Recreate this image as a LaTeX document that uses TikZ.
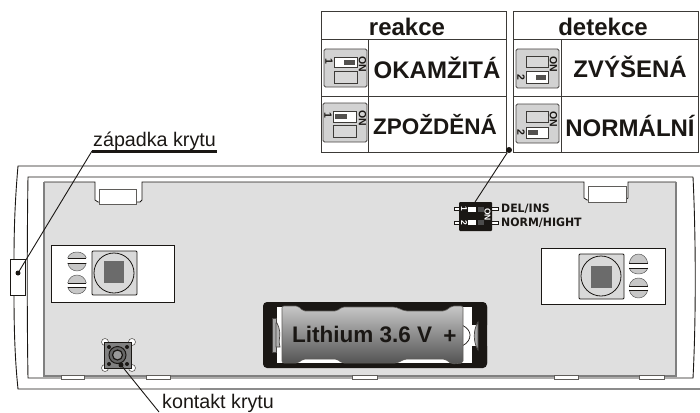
\documentclass[tikz,border=0pt]{standalone}
\usepackage{fontspec}
\setmainfont{Liberation Sans}
\newfontfamily\dejab{DejaVu Sans}[FakeStretch=0.95]
\newcommand\fs[1]{\fontsize{#1}{#1}\selectfont}
\definecolor{panel}{HTML}{DFDFDF}
\definecolor{iconbg}{HTML}{D2D2D2}
\definecolor{slotbg}{HTML}{D8D8D8}
\definecolor{ink}{HTML}{1A1714}
\tikzset{
 rule/.style={draw=ink!85!white,line width=1pt},
 txt/.style={inner sep=0pt,text=ink},
 head/.style={txt,font=\fs{24}\bfseries},
 big/.style={txt,font=\fs{22.5}\bfseries},
 bigger/.style={txt,font=\fs{24}\bfseries},
 swbox/.style={draw=ink!80!white,fill=iconbg,rounded corners=1.5pt,line width=.8pt},
 slotoff/.style={draw=ink!85!white,fill=slotbg,line width=.8pt},
 sloton/.style={draw=ink!85!white,fill=white,line width=.8pt},
 slider/.style={fill=ink!75!white,draw=none},
 tiny/.style={inner sep=0pt,rotate=-90,text=ink,font=\fs{10.5}\bfseries},
 wtiny/.style={inner sep=0pt,rotate=-90,text=white,font=\fs{8.5}\bfseries},
 frameline/.style={draw=ink,line width=.9pt},
 thin/.style={draw=ink,line width=.8pt},
 tabw/.style={draw=ink!70!white,fill=white,line width=.8pt},
 dot/.style={circle,fill=ink,inner sep=0pt,minimum size=#1},
 leader/.style={draw=ink,line width=.9pt},
 label/.style={inner sep=0pt,anchor=west,text=ink,font=\fs{19.7}},
 diptxt/.style={inner sep=0pt,anchor=west,text=ink,font=\dejab\fs{11.5}\bfseries},
 edge/.style={draw=black!50,line width=1.2pt},
}
\newcommand\domes[3]{\filldraw[fill=black!22,draw=black!65,line width=.5pt] (#1-9.3,#2) .. controls (#1-7,{#2+(#3-#2)*1.33}) and (#1+7,{#2+(#3-#2)*1.33}) .. (#1+9.3,#2);\draw[draw=ink,line width=.8pt] (#1-9.3,#2) -- (#1+9.3,#2);}
\begin{document}
\begin{tikzpicture}[x=1pt,y=-1pt]
\useasboundingbox (0,0) rectangle (700,412);
% housing
\draw[frameline] (700,166) -- (18,166) .. controls (15,200) and (14,230) .. (14,259);
\draw[frameline] (14,295) .. controls (14,330) and (15,360) .. (18,389) -- (200,389);
\draw[draw=black!45,line width=1.6pt] (200,389) -- (700,389);
\draw[frameline] (693,177) -- (28,177) .. controls (27,240) and (27,320) .. (28,378) -- (693,378) .. controls (696,320) and (696,240) .. (693,177);
\draw[draw=ink,fill=white,line width=.7pt] (10,259) rectangle (25,295);
% panel
\fill[panel] (44,376) -- (44,182) -- (95,182) -- (95,200) -- (98,202) -- (140,202) -- (142,200) -- (142,182) -- (584,182) -- (584,198) -- (587,200) -- (625,200) -- (628,198) -- (628,182) -- (676,182) -- (676,376) -- cycle;
\draw[draw=ink,line width=.8pt] (44,182) -- (95,182) -- (95,200) -- (98,202) -- (140,202) -- (142,200) -- (142,182) -- (584,182) -- (584,198) -- (587,200) -- (625,200) -- (628,198) -- (628,182) -- (676,182);
\draw[edge] (44,182) -- (44,376) -- (676,376) -- (676,182);
\draw[tabw] (99,189) rectangle (136.5,204);
\draw[tabw] (588,186) rectangle (626,202);
\foreach \a/\b in {61/84,146/170,352/377,554/578,639/664} \draw[tabw] (\a,375) rectangle (\b,379);
% left sensor
\filldraw[fill=white,thin] (51,245) rectangle (174,302);
\filldraw[fill=black!15,thin,rounded corners=1pt] (92,251) rectangle (137,295);
\draw[thin] (114,273) circle[radius=20pt];
\fill[black!58] (104,261) rectangle (124,283);
\domes{77}{258}{252}\domes{77}{263}{271}\domes{77}{283}{275}\domes{77}{287}{294}
% right sensor
\filldraw[fill=white,thin] (541,248) rectangle (665,304);
\filldraw[fill=black!15,thin,rounded corners=1pt] (579,254) rectangle (624,299);
\draw[thin] (601,276) circle[radius=20pt];
\fill[black!58] (591,266) rectangle (612,288);
\domes{638.5}{263}{254}\domes{638.5}{268}{274}\domes{638.5}{286}{278}\domes{638.5}{290}{298}
% button
\foreach \p in {105,132}\foreach \q in {342,368} \filldraw[fill=white,draw=ink!70!white,line width=.6pt] (\p,\q) circle[radius=3.5pt];
\filldraw[fill=black!50,draw=ink,line width=1pt] (104,342) rectangle (131,368);
\foreach \p in {109,127}\foreach \q in {347,364} \fill[ink] (\p,\q) circle[radius=2pt];
\filldraw[fill=black!60,draw=ink,line width=1pt] (117.5,355) circle[radius=8.5pt];
\filldraw[fill=black!40,draw=ink,line width=1.2pt] (117.5,355) circle[radius=5pt];
% battery
\fill[ink,rounded corners=4pt] (263,302) rectangle (487,368);
\fill[white] (277,307) rectangle (472,363);
\fill[ink] (472,307) rectangle (487,325) (472,346) rectangle (487,363);
\fill[white] (472,325) -- (478,325) -- (478,346) -- (472,346) -- cycle;
\filldraw[fill=black!35,draw=ink!80,line width=.7pt] (272,318) rectangle (276,352);
\filldraw[fill=black!30,draw=ink!80,line width=.7pt] (277,323) .. controls (283,335) and (277,340) .. (280,347) -- (276,347) -- (276,323) -- cycle;
\filldraw[fill=white,draw=ink,line width=.7pt] (462,325) .. controls (468,328) and (470,332) .. (470,335) .. controls (470,339) and (468,343) .. (462,346) -- cycle;
\filldraw[fill=black!35,draw=ink!80,line width=.7pt] (478,322) .. controls (473,330) and (473,342) .. (478,350) -- cycle;
\fill[ink] (295,307) -- (345,307) -- (340,311) -- (303,311) -- cycle (395,307) -- (452,307) -- (445,311) -- (405,311) -- cycle;
\shade[top color=black!22,bottom color=black!68,draw=ink!70!white,line width=.6pt,rounded corners=2pt]
 (282,306) -- (298,306) -- (303,311) -- (337,311) -- (342,307) -- (395,307) -- (405,311) -- (445,311) -- (452,306) -- (463,306) -- (463,363) -- (452,364) -- (445,359) -- (405,359) -- (397,363) -- (342,363) -- (337,359) -- (303,359) -- (298,363) -- (282,363) -- cycle;
\node[big,anchor=west] (lith) at (292,334) {Lithium 3.6 V};
\node[big] (plus) at (450,337) {+};
% tables
\draw[rule] (321,12) rectangle (506.5,152) (321,40) -- (506.5,40) (321,96) -- (506.5,96) (368,40) -- (368,152);
\draw[rule] (513,12) rectangle (698,152) (513,40) -- (698,40) (513,96) -- (698,96) (561,40) -- (561,152);
\node[head] (reakce) at (407,27) {reakce};
\node[head] (detekce) at (603,27) {detekce};
\node[bigger] (okam) at (437,67.5) {OKAMŽITÁ};
\node[big] (zpoz) at (435,125) {ZPOŽDĚNÁ};
\node[bigger] (zvys) at (630,67) {ZVÝŠENÁ};
\node[bigger] (norm) at (630,126) {NORMÁLNÍ};
% icons
\draw[swbox] (324,49) rectangle (367,87);
\draw[sloton] (334,57) rectangle (357,67); \fill[slider] (344,59.5) rectangle (355,64.5); \draw[slotoff] (334,71) rectangle (357,83);
\node[tiny] (on1) at (362.5,64) {ON}; \node[tiny] (n1) at (329,61) {1};
\draw[swbox] (323,103) rectangle (367,142);
\draw[sloton] (333,111) rectangle (356,122); \fill[slider] (335,114) rectangle (347,119); \draw[slotoff] (333,125) rectangle (356,137);
\node[tiny] (on2) at (362.5,118) {ON}; \node[tiny] (n2) at (328,115) {1};
\draw[swbox] (516,49) rectangle (559,88);
\draw[slotoff] (526,56) rectangle (548,67); \draw[sloton] (526,71) rectangle (548,83); \fill[slider] (536,74.5) rectangle (546,79.5);
\node[tiny] (on3) at (553.5,64) {ON}; \node[tiny] (n3) at (521,77) {2};
\draw[swbox] (516,104) rectangle (559,143);
\draw[slotoff] (526,111) rectangle (548,122); \draw[sloton] (526,127) rectangle (548,138); \fill[slider] (528,130) rectangle (538,135);
\node[tiny] (on4) at (553.5,119) {ON}; \node[tiny] (n4) at (521,132) {2};
% DIP
\node[dot=0pt] (dipTop) at (475,202) {};
\foreach \q in {209,222.5} {
 \draw[draw=ink,fill=white,line width=.6pt] (454,\q-1.5) rectangle (460,\q+1.5);
 \draw[draw=ink,fill=white,line width=.6pt] (491,\q-1.5) rectangle (498,\q+1.5);}
\fill[ink,rounded corners=1pt] (459,202) rectangle (492,231);
\foreach \q in {209,222.5} {\fill[white] (468,\q-2.5) rectangle (476,\q+2.5); \fill[black!70] (478,\q-2.5) rectangle (484,\q+2.5);}
\node[wtiny] (d1) at (464,209) {1}; \node[wtiny] (d2) at (464,222.5) {2}; \node[wtiny] (don) at (487.5,214.5) {ON};
\node[diptxt] (del) at (501,209) {DEL/INS};
\node[diptxt] (nrm) at (501,222.5) {NORM/HIGHT};
% connectors
\node[dot=6pt] (tdot) at (509,150) {};
\draw[leader] (tdot) -- (dipTop);
\node[label] (zap) at (93,141) {západka krytu};
\coordinate (zapL) at (92,151); \coordinate (zapR) at (217,151);
\draw[draw=ink,line width=3pt] (zapL) -- (zapR);
\node[dot=5pt] (cdot) at (18,273) {};
\draw[leader] (zapL) -- (cdot);
\node[label] (kon) at (162,403) {kontakt krytu};
\coordinate (konE) at (159,412);
\node[dot=5pt] (bdot) at (121,365) {};
\draw[leader] (bdot) -- (konE);
\end{tikzpicture}
\end{document}
